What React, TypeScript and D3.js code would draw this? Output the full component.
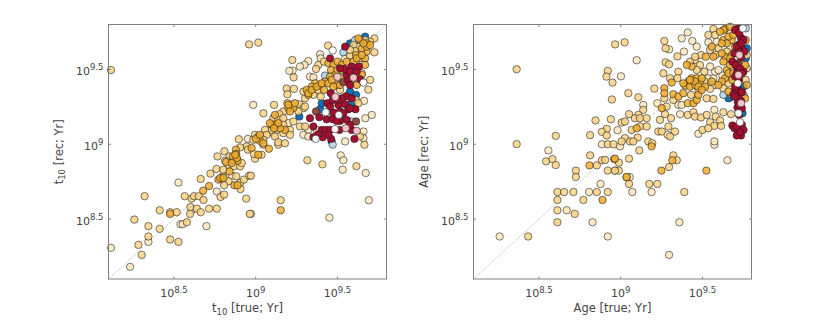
import React from "react";
import * as d3 from "d3";

type P = [number, number];
// All values are log10(years): [true, recovered]
const leftLight: P[] = [[8.952,9.036],[8.115,8.308],[8.232,8.181],[8.344,8.348],[8.528,8.744],[8.54,8.466],[8.554,8.466],[8.609,8.561],[8.699,8.453],[8.762,8.684],[8.854,8.79],[8.971,8.535],[9.52,8.926],[9.536,8.893],[9.532,8.83],[9.673,8.808],[9.692,8.626],[9.451,8.51],[9.322,9.556],[9.298,9.53],[9.271,9.519],[9.226,9.492],[9.206,9.49],[8.985,9.263],[9.663,9.29],[9.71,9.196],[9.671,9.174],[9.659,9.085],[9.394,9.601],[9.398,9.574],[9.547,9.57],[9.628,9.652],[9.332,9.452],[9.353,9.447],[9.577,9.485],[9.2,9.141],[9.108,9.074],[9.322,9.096],[9.373,9.096],[9.292,9.063],[9.322,9.052],[9.659,9.041],[9.547,9.019]];
const leftMid: P[] = [[8.115,9.496],[8.96,9.667],[8.897,9.034],[9.016,9.679],[8.303,8.261],[8.283,8.328],[8.344,8.384],[8.344,8.453],[8.258,8.497],[8.413,8.559],[8.413,8.435],[8.321,8.653],[8.477,8.364],[8.528,8.348],[8.477,8.546],[8.517,8.546],[8.579,8.479],[8.566,8.653],[8.599,8.535],[8.601,8.581],[8.64,8.57],[8.664,8.546],[8.715,8.57],[8.762,8.57],[8.609,8.637],[8.623,8.653],[8.652,8.653],[8.681,8.628],[8.664,8.768],[8.723,8.804],[8.76,8.835],[8.766,8.919],[8.809,8.953],[8.785,8.648],[8.807,8.664],[8.799,8.786],[8.793,8.764],[8.834,8.753],[8.807,8.726],[8.881,8.786],[8.905,8.741],[8.928,8.764],[8.907,8.701],[8.942,8.637],[8.964,8.535],[8.96,8.79],[8.84,8.919],[8.813,8.89],[8.834,8.859],[8.803,8.83],[8.868,8.853],[8.905,8.853],[8.946,8.986],[8.905,8.979],[8.952,8.964],[8.915,8.875],[8.971,8.79],[9.316,8.893],[9.408,8.866],[9.616,8.853],[9.153,8.626],[9.047,8.997],[8.996,8.904],[8.989,8.935],[9.036,8.93],[9.138,8.997],[9.665,8.997],[9.443,9.659],[9.224,9.563],[9.232,9.447],[9.189,9.372],[9.234,9.37],[9.194,9.334],[9.112,9.263],[9.047,9.207],[9.7,9.43],[9.689,9.365],[9.726,9.614],[9.726,9.707],[9.7,9.685],[9.383,9.53],[9.369,9.503],[9.418,9.552],[9.577,9.592],[9.598,9.663],[9.669,9.696],[9.608,9.623],[9.577,9.63],[9.292,9.352],[9.353,9.33],[9.302,9.307],[9.383,9.363],[9.398,9.319],[9.516,9.363],[9.649,9.474],[9.614,9.296],[9.628,9.274],[9.22,9.263],[9.267,9.267],[9.292,9.241],[9.261,9.219],[9.302,9.252],[9.169,9.219],[9.145,9.201],[9.108,9.174],[9.138,9.163],[9.169,9.174],[9.169,9.13],[9.23,9.152],[9.21,9.096],[9.128,9.096],[9.098,9.096],[9.057,9.096],[9.067,9.063],[9.118,9.052],[9.169,9.074],[9.271,9.119],[9.302,9.119],[9.21,9.063],[8.996,9.063],[8.985,9.03],[9.047,9.03],[9.138,9.014],[9.179,9.007],[9.638,9.052]];
const leftDark: P[] = [[8.477,8.535],[8.679,8.69],[8.715,8.721],[8.772,8.764],[8.87,8.726],[8.889,8.726],[8.879,8.964],[8.881,8.935],[8.864,8.897],[8.889,8.89],[8.84,8.819],[9.153,8.559],[9.081,8.97],[9.016,8.93],[8.975,8.975],[9.445,9.541],[9.475,9.53],[9.461,9.496],[9.5,9.552],[9.526,9.53],[9.614,9.596],[9.638,9.574],[9.669,9.574],[9.679,9.619],[9.649,9.641],[9.679,9.674],[9.638,9.696],[9.485,9.463],[9.455,9.452],[9.424,9.419],[9.394,9.396],[9.363,9.407],[9.343,9.385],[9.312,9.363],[9.322,9.33],[9.418,9.363],[9.496,9.396],[9.618,9.396],[9.618,9.463],[9.5,9.496],[9.526,9.441],[9.194,9.274],[9.2,9.241],[9.23,9.241],[9.118,9.196],[9.098,9.13],[9.179,9.096],[9.149,9.107],[9.016,9.052],[9.026,9.023],[9.322,9.341],[9.343,9.363],[9.373,9.385],[9.404,9.407],[9.445,9.407],[9.465,9.43],[9.475,9.385],[9.526,9.496],[9.557,9.552],[9.598,9.552],[9.618,9.574],[9.649,9.596],[9.679,9.652],[9.7,9.663],[9.659,9.674],[9.628,9.707],[9.669,9.53],[9.516,9.396],[9.587,9.43],[9.649,9.463],[9.2,9.263],[9.24,9.274],[9.21,9.219],[9.118,9.13],[9.138,9.141],[9.087,9.141],[9.112,9.107],[9.002,9.036],[9.026,9.063],[9.047,9.007],[8.86,8.919],[8.819,8.881],[8.854,8.875],[8.885,8.908],[8.875,8.93],[8.783,8.775],[8.803,8.775]];
const leftBlue: P[] = [[9.669,9.719],[9.577,9.674],[9.267,9.185],[9.394,9.234],[9.577,9.352],[9.614,9.33],[9.404,9.274],[9.587,9.274],[9.526,9.179],[9.465,9.019]];
const leftPaleBlue: P[] = [[9.455,9.219],[9.424,9.459],[9.608,9.696],[9.536,9.614],[9.587,9.152],[9.471,8.997]];
const leftWhite: P[] = [[9.471,9.627],[9.428,9.214],[9.508,9.196],[9.659,9.412],[9.367,9.036],[9.485,9.101]];
const leftRed: P[] = [[9.547,9.652],[9.455,9.574],[9.543,9.503],[9.587,9.519],[9.632,9.519],[9.557,9.459],[9.638,9.434],[9.567,9.423],[9.577,9.396],[9.459,9.341],[9.553,9.321],[9.587,9.307],[9.438,9.274],[9.471,9.296],[9.506,9.263],[9.547,9.267],[9.567,9.234],[9.516,9.219],[9.475,9.212],[9.332,9.174],[9.389,9.181],[9.434,9.167],[9.471,9.167],[9.516,9.156],[9.557,9.163],[9.61,9.234],[9.353,9.119],[9.404,9.096],[9.43,9.096],[9.455,9.096],[9.512,9.096],[9.587,9.096],[9.353,9.047],[9.41,9.047],[9.461,9.036],[9.604,9.036],[9.516,9.507],[9.577,9.485],[9.618,9.485],[9.526,9.307],[9.5,9.296],[9.577,9.241],[9.455,9.252],[9.536,9.207],[9.496,9.156],[9.577,9.13],[9.383,9.067],[9.445,9.063]];
const leftPink: P[] = [[9.5,9.45],[9.598,9.445],[9.487,9.316],[9.551,9.107],[9.618,9.09]];
const leftBrown: P[] = [[9.536,9.414],[9.369,9.219],[9.614,9.152]];

const rightLight: P[] = [[8.558,8.959],[8.807,8.681],[8.67,8.559],[8.828,8.479],[8.26,8.384],[8.921,8.384],[8.885,9.0],[8.877,8.735],[9.653,8.893],[9.359,8.479],[9.296,8.261],[9.189,8.681],[9.071,8.681],[9.055,8.781],[8.996,8.986],[9.573,8.997],[9.373,9.707],[9.41,9.747],[9.438,9.69],[9.465,9.652],[9.098,9.561],[9.296,9.634],[9.387,9.619],[9.002,9.454],[9.353,9.263],[9.373,9.263],[9.224,9.274],[9.138,9.263],[9.363,9.201],[9.573,9.23],[9.475,9.07],[9.573,9.019],[8.981,9.094],[9.287,9.063],[9.536,9.441],[9.567,9.441],[9.577,9.396],[9.622,9.459],[9.536,9.681],[9.587,9.685],[9.669,9.752],[9.669,9.652],[9.577,9.485],[9.547,9.519],[9.669,9.452],[9.598,9.496]];
const rightMid: P[] = [[8.364,9.501],[8.364,9.001],[8.603,9.056],[8.813,9.061],[8.846,9.159],[8.94,9.167],[8.915,9.103],[8.885,9.083],[8.915,9.059],[8.946,9.299],[8.921,9.49],[8.913,9.452],[8.95,9.412],[8.966,9.667],[8.921,9.0],[8.956,9.0],[8.544,8.886],[8.583,8.901],[8.603,8.861],[8.726,8.824],[8.726,8.781],[8.613,8.681],[8.654,8.681],[8.711,8.681],[8.854,8.681],[8.921,8.681],[8.613,8.628],[8.772,8.628],[8.613,8.559],[8.719,8.535],[8.613,8.479],[8.434,8.384],[8.813,8.926],[8.854,8.859],[8.885,8.893],[8.905,8.895],[8.921,8.824],[8.966,8.824],[9.389,8.681],[9.322,8.926],[9.343,8.893],[9.296,8.848],[9.224,8.735],[9.175,8.735],[9.051,8.735],[9.036,8.781],[8.989,8.824],[8.965,8.824],[9.051,8.904],[8.989,8.877],[9.114,8.959],[9.024,9.681],[9.267,9.69],[9.567,9.77],[9.275,9.641],[9.347,9.587],[9.275,9.547],[9.296,9.534],[9.261,9.474],[9.353,9.485],[9.347,9.441],[9.302,9.441],[9.206,9.372],[9.047,9.341],[9.108,9.314],[9.267,9.307],[9.322,9.296],[9.281,9.252],[9.138,9.23],[9.051,9.201],[9.108,9.196],[9.087,9.174],[9.118,9.174],[9.159,9.174],[9.271,9.201],[9.308,9.174],[9.24,9.163],[9.41,9.196],[9.445,9.214],[9.455,9.185],[9.491,9.179],[9.526,9.196],[9.628,9.214],[9.675,9.201],[9.581,9.185],[9.608,9.159],[9.547,9.147],[9.571,9.123],[9.614,9.123],[9.5,9.096],[9.536,9.107],[9.006,9.145],[9.026,9.152],[9.067,9.096],[9.118,9.119],[9.159,9.119],[9.169,9.019],[9.23,9.085],[9.251,9.085],[9.292,9.119],[9.332,9.085],[9.302,9.052],[9.026,9.041],[9.006,9.019],[9.057,9.019],[9.104,9.045],[9.077,9.019],[9.193,9.007],[9.512,9.419],[9.547,9.37],[9.475,9.363],[9.659,9.407],[9.628,9.374],[9.526,9.307],[9.567,9.303],[9.43,9.33],[9.455,9.563],[9.424,9.552],[9.491,9.596],[9.455,9.585],[9.547,9.63],[9.581,9.596],[9.577,9.73],[9.536,9.73],[9.649,9.619],[9.598,9.641],[9.679,9.496],[9.485,9.53],[9.679,9.33],[9.512,9.485],[9.465,9.496],[9.771,9.596],[9.771,9.507],[9.765,9.43],[9.751,9.33]];
const rightDark: P[] = [[8.809,8.859],[8.889,8.628],[8.96,8.901],[9.524,8.824],[9.316,8.893],[9.249,8.824],[9.036,8.781],[8.965,8.904],[9.189,8.986],[9.312,9.412],[9.267,9.374],[9.267,9.341],[9.322,9.334],[9.353,9.319],[9.383,9.341],[9.41,9.274],[9.445,9.274],[9.465,9.296],[9.251,9.241],[9.098,9.107],[9.434,9.441],[9.465,9.441],[9.414,9.419],[9.394,9.392],[9.424,9.385],[9.455,9.396],[9.485,9.407],[9.516,9.385],[9.475,9.33],[9.434,9.519],[9.52,9.585],[9.638,9.585],[9.628,9.696],[9.638,9.77],[9.679,9.696],[9.618,9.607],[9.679,9.596],[9.649,9.496],[9.404,9.53],[9.765,9.696],[9.683,9.43],[9.628,9.763],[9.659,9.719],[9.649,9.674],[9.689,9.73],[9.7,9.652],[9.669,9.574],[9.628,9.552],[9.669,9.53],[9.638,9.441],[9.618,9.419],[9.598,9.396],[9.557,9.419],[9.496,9.441],[9.455,9.419],[9.424,9.43],[9.475,9.385],[9.496,9.363],[9.383,9.407],[9.659,9.474],[9.689,9.474],[9.659,9.352],[9.567,9.585],[9.557,9.652],[9.608,9.752],[9.669,9.785],[9.618,9.674],[9.761,9.53],[9.771,9.396],[9.761,9.307]];
const rightBlue: P[] = [[9.765,9.574],[9.771,9.641],[9.751,9.385],[9.745,9.207],[9.669,9.312],[9.659,9.307]];
const rightPaleBlue: P[] = [[9.628,9.33],[9.765,9.774]];
const rightWhite: P[] = [[9.747,9.774],[9.716,9.407],[9.72,9.207],[9.73,9.147]];
const rightRed: P[] = [[9.71,9.77],[9.736,9.712],[9.724,9.667],[9.741,9.641],[9.683,9.552],[9.714,9.507],[9.71,9.474],[9.71,9.334],[9.724,9.363],[9.736,9.29],[9.714,9.245],[9.683,9.125],[9.72,9.096],[9.736,9.059],[9.71,9.059],[9.736,9.579],[9.751,9.485],[9.7,9.363],[9.72,9.307],[9.724,9.196],[9.741,9.13],[9.73,9.774],[9.689,9.33],[9.7,9.763],[9.724,9.741],[9.751,9.696],[9.71,9.652],[9.736,9.674],[9.73,9.619],[9.696,9.607],[9.757,9.619],[9.704,9.53],[9.73,9.507],[9.741,9.474],[9.7,9.452],[9.724,9.43],[9.7,9.385],[9.741,9.347],[9.716,9.285],[9.741,9.241],[9.7,9.319],[9.724,9.263],[9.696,9.107],[9.751,9.096],[9.73,9.081],[9.71,9.119]];
const rightPink: P[] = [[9.726,9.596],[9.72,9.463],[9.736,9.274]];
const rightBrown: P[] = [[9.72,9.541]];

const tickValues = [8.5, 9, 9.5];
const tickLabels = ["8.5", "9", "9.5"];
const axisDomain: [number, number] = [8.1, 9.8];

const colors = {
  light: "#fde7bd", mid: "#f9d284", dark: "#eeac2e", blue: "#0f74b8",
  paleBlue: "#bcd8ec", white: "#ffffff", red: "#a50f30", pink: "#f3c6cc", brown: "#8f4a3c",
};

const INK = "#444444";
const SPINE = "#808080";
const FONT = "'DejaVu Sans', sans-serif";

type Layer = { pts: P[]; fill: string; opacity: number };

function Panel({ left, layers, xLabel, yLabel }: { left: number; layers: Layer[]; xLabel: React.ReactNode; yLabel: React.ReactNode }) {
  const width = 278, top = 24.5, height = 254.5;
  const x = d3.scaleLinear().domain(axisDomain).range([left, left + width]);
  const y = d3.scaleLinear().domain(axisDomain).range([top + height, top]);
  const cx = left + width / 2;
  const cy = top + height / 2;
  return (
    <g fontFamily={FONT} fill={INK}>
      <line x1={x(8.1)} y1={y(8.1)} x2={x(9.8)} y2={y(9.8)} stroke="#888" strokeWidth={0.6} strokeDasharray="1.2 1.2" />
      {layers.map((l, i) => (
        <g key={i}>
          {l.pts.map((p, j) => (
            <circle key={j} cx={x(p[0])} cy={y(p[1])} r={3.7} fill={l.fill} fillOpacity={l.opacity} stroke="#1a1a1a" strokeOpacity={0.72} strokeWidth={0.8} />
          ))}
        </g>
      ))}
      <rect x={left} y={top} width={width} height={height} fill="none" stroke={SPINE} strokeWidth={1} />
      {tickValues.map((t, i) => (
        <g key={t}>
          <line x1={x(t)} x2={x(t)} y1={top + height} y2={top + height - 2.5} stroke={SPINE} />
          <line x1={x(t)} x2={x(t)} y1={top} y2={top + 2.5} stroke={SPINE} />
          <line x1={left} x2={left + 2.5} y1={y(t)} y2={y(t)} stroke={SPINE} />
          <line x1={left + width} x2={left + width - 2.5} y1={y(t)} y2={y(t)} stroke={SPINE} />
          <text x={x(t)} y={297} textAnchor="middle" fontSize={11}>
            10<tspan fontSize={8.5} dy={-4.5}>{tickLabels[i]}</tspan>
          </text>
          <text x={left - 5} y={y(t) + 5.5} textAnchor="end" fontSize={11}>
            10<tspan fontSize={8.5} dy={-4.5}>{tickLabels[i]}</tspan>
          </text>
        </g>
      ))}
      <text x={cx} y={312} textAnchor="middle" fontSize={11.5}>{xLabel}</text>
      <text transform={`translate(${left - 46},${cy}) rotate(-90)`} textAnchor="middle" fontSize={11.5}>{yLabel}</text>
    </g>
  );
}

function layersOf(light: P[], mid: P[], dark: P[], blue: P[], pale: P[], white: P[], red: P[], pink: P[], brown: P[]): Layer[] {
  return [
    { pts: blue, fill: colors.blue, opacity: 1 },
    { pts: pale, fill: colors.paleBlue, opacity: 1 },
    { pts: light, fill: colors.light, opacity: 0.85 },
    { pts: mid, fill: colors.mid, opacity: 0.85 },
    { pts: dark, fill: colors.dark, opacity: 0.85 },
    { pts: brown, fill: colors.brown, opacity: 1 },
    { pts: red, fill: colors.red, opacity: 1 },
    { pts: pink, fill: colors.pink, opacity: 1 },
    { pts: white, fill: colors.white, opacity: 1 },
  ];
}

export default function App() {
  const sub = (label: string, rest: string) => (
    <>{label}<tspan fontSize={8.5} dy={2.5}>10</tspan><tspan dy={-2.5}>{rest}</tspan></>
  );
  return (
    <svg width={830} height={321} style={{ position: "absolute", left: 0, top: 0, background: "#fff" }}>
      <Panel left={108.5} layers={layersOf(leftLight, leftMid, leftDark, leftBlue, leftPaleBlue, leftWhite, leftRed, leftPink, leftBrown)}
        xLabel={sub("t", " [true; Yr]")} yLabel={sub("t", " [rec; Yr]")} />
      <Panel left={473.5} layers={layersOf(rightLight, rightMid, rightDark, rightBlue, rightPaleBlue, rightWhite, rightRed, rightPink, rightBrown)}
        xLabel="Age [true; Yr]" yLabel="Age [rec; Yr]" />
    </svg>
  );
}
